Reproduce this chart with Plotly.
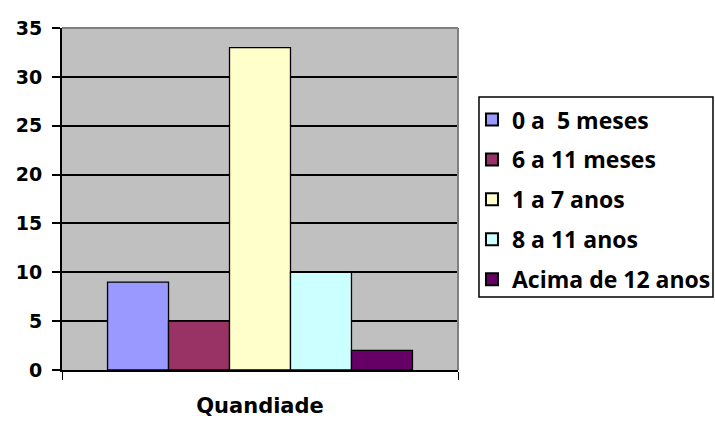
import plotly.graph_objects as go

category = ["Quandiade"]
series_names = ["0 a  5 meses", "6 a 11 meses", "1 a 7 anos", "8 a 11 anos", "Acima de 12 anos"]
series_values = [9, 5, 33, 10, 2]
series_colors = ["#9999FF", "#993366", "#FFFFCC", "#CCFFFF", "#660066"]
y_ticks = [0, 5, 10, 15, 20, 25, 30, 35]

fig = go.Figure()
for i, (name, val, col) in enumerate(zip(series_names, series_values, series_colors)):
    fig.add_trace(go.Bar(
        x=category, y=[val], name="<b>" + name.replace("  ", "&nbsp; ") + "</b>", legendgroup=f"g{i}",
        marker=dict(color=col, line=dict(color="black", width=1.3)),
    ))

fig.update_layout(
    width=715, height=421,
    margin=dict(l=62, r=257, t=28, b=51, autoexpand=False),
    paper_bgcolor="white", plot_bgcolor="#C0C0C0",
    barmode="group", bargap=0.23, bargroupgap=0,
    font=dict(family="DejaVu Sans", size=18, color="black"),
    showlegend=True,
    legend=dict(
        x=1.0353, xanchor="left", y=0.795, yanchor="top",
        borderwidth=0, bgcolor="rgba(0,0,0,0)",
        font=dict(family="Open Sans", size=23, color="black"),
        traceorder="grouped", tracegroupgap=7,
        itemsizing="constant",
    ),
    xaxis=dict(
        automargin=False,
        showline=True, linecolor="black", linewidth=2,
        ticks="outside", tickson="boundaries", ticklen=8, tickcolor="black",
        tickfont=dict(family="DejaVu Sans", size=21, color="black"),
        tickprefix="<b>", ticksuffix="</b>",
        ticklabelstandoff=16,
        showgrid=False,
    ),
    yaxis=dict(
        automargin=False,
        range=[0, 35], tickvals=y_ticks, ticktext=[f"<b>{v}</b>" for v in y_ticks],
        showline=True, linecolor="black", linewidth=2,
        ticks="outside", ticklen=8, tickcolor="black", tickwidth=2,
        tickfont=dict(family="DejaVu Sans", size=19, color="black"),
        ticklabelstandoff=6,
        showgrid=True, gridcolor="black", gridwidth=2,
        zeroline=False,
    ),
)

# plot-area frame (top and right edges)
fig.add_shape(type="line", xref="x domain", yref="y domain", x0=0, x1=1, y0=1, y1=1,
              line=dict(color="#808080", width=2), layer="above")
fig.add_shape(type="line", xref="x domain", yref="y domain", x0=1, x1=1, y0=0, y1=1,
              line=dict(color="#808080", width=2), layer="above")
# legend frame
fig.add_shape(type="rect", xref="paper", yref="paper", x0=1.053, x1=1.6439, y0=0.2135, y1=0.7982,
              line=dict(color="black", width=1.5), fillcolor="white", layer="below")

fig.write_html(
    "out.html",
    config={"displayModeBar": False},
    post_script="document.body.style.margin='0';document.body.style.overflow='hidden';",
)
